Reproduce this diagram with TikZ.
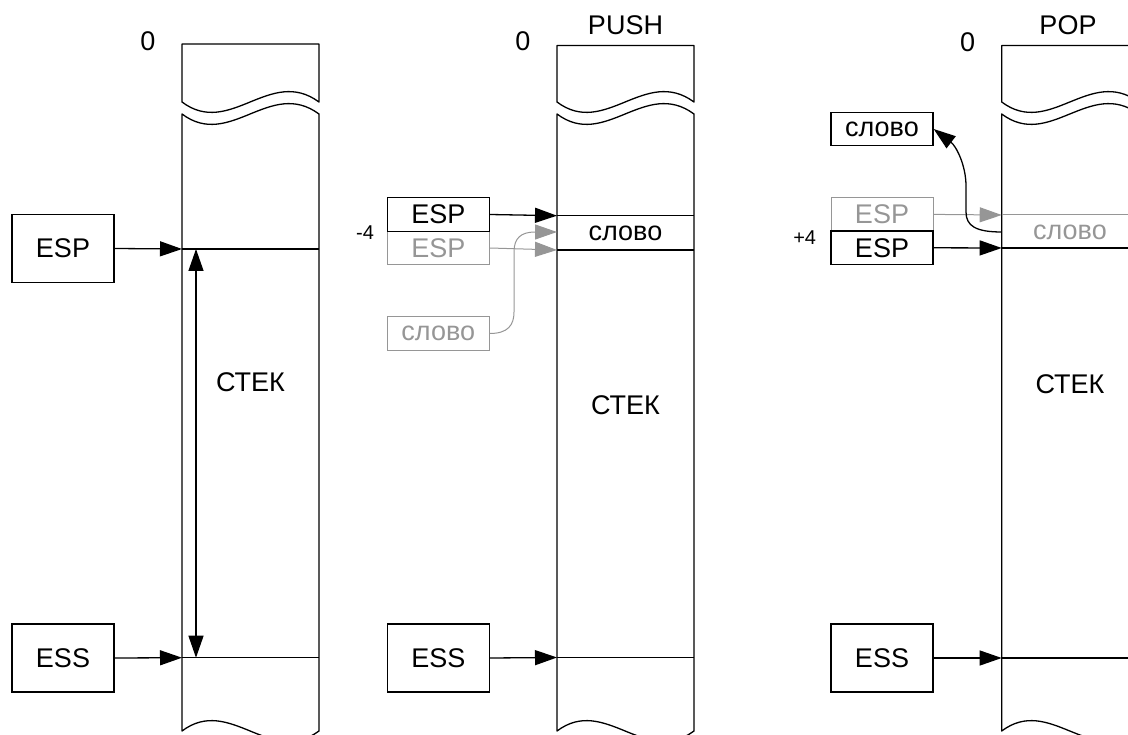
\documentclass[tikz,border=0pt]{standalone}
\usepackage{fontspec}
\setmainfont{Liberation Sans}
\usetikzlibrary{arrows.meta}
\definecolor{greyc}{RGB}{150,150,150}
\newcommand{\drawcol}[2]{%
  \draw[colline] (#1,102) -- (#1,#2) -- (#1+137,#2) -- (#1+137,102)
     .. controls (#1+88,66) and (#1+48,138) .. cycle;
  \draw[colline] (#1+137,731) -- (#1+137,114)
     .. controls (#1+88,78) and (#1+48,150) .. (#1,114) -- (#1,731)
     .. controls (#1+48,695) and (#1+88,767) .. cycle;
}
\begin{document}
\begin{tikzpicture}[x=1pt,y=-1pt,
  colline/.style={line width=1.3pt, line join=round},
  txt/.style={font=\fontsize{27}{30}\selectfont, inner sep=0pt},
  smalltxt/.style={font=\fontsize{20}{22}\selectfont, inner sep=0pt},
  bigbox/.style={txt, draw, line width=1.3pt, minimum width=102pt, minimum height=68pt},
  smallbox/.style={txt, draw, line width=1.3pt, minimum width=102pt, minimum height=33.5pt},
  greybox/.style={smallbox, draw=greyc, text=greyc, line width=1pt},
  ar/.style={line width=1.3pt, -{Triangle[length=22pt,width=15pt]}},
  gar/.style={line width=1pt, draw=greyc, -{Triangle[length=22pt,width=15pt]}, greyc},
  dar/.style={line width=1.3pt, {Triangle[length=22pt,width=15pt]}-{Triangle[length=22pt,width=15pt]}}
]
\useasboundingbox (0,0) rectangle (1128,735);
\clip (0,0) rectangle (1128,735);

% ---------------- column 1 ----------------
\drawcol{182}{44}
\coordinate (c1a) at (182,249);
\coordinate (c1b) at (182,657.7);
\draw[colline] (c1a) -- (319,249);
\draw[colline] (c1b) -- (319,657.7);
\node[txt] (z1) at (148,41) {0};
\node[txt] (st1) at (250.5,382) {СТЕК};
\node[bigbox] (esp1) at (63,248.5) {ESP};
\node[bigbox] (ess1) at (63,658) {ESS};
\draw[ar] (esp1.east) -- (c1a);
\draw[ar] (ess1.east) -- (c1b);
\coordinate (d1a) at (196,249);
\coordinate (d1b) at (196,657.7);
\draw[dar] (d1a) -- (d1b);

% ---------------- column 2 (PUSH) ----------------
\drawcol{557}{45.5}
\coordinate (c2a) at (557,215.7);
\coordinate (c2m) at (557,232);
\coordinate (c2b) at (557,250);
\coordinate (c2c) at (557,657.5);
\draw[colline] (c2a) -- (694,215.7);
\draw[colline] (c2b) -- (694,250);
\draw[colline] (c2c) -- (694,657.5);
\node[txt] (z2) at (523,41) {0};
\node[txt] (push) at (625.5,25) {PUSH};
\node[txt] (w2) at (625.5,233) {слово};
\node[txt] (st2) at (625.5,405) {СТЕК};
\node[greybox] (gesp2) at (438.3,248) {ESP};
\node[smallbox] (esp2) at (438.3,214.5) {ESP};
\node[smalltxt] (m4) at (365,233) {-4};
\node[greybox] (gw2) at (438.3,333.5) {слово};
\node[bigbox] (ess2) at (438.3,658) {ESS};
\draw[ar] (esp2.east) -- (c2a);
\draw[gar] (gesp2.east) -- (c2b);
\draw[gar] (gw2.east) .. controls (508,333.5) and (514,325) .. (514,312)
   -- (514,252) .. controls (514,238) and (521,232) .. (c2m);
\draw[ar] (ess2.east) -- (c2c);

% ---------------- column 3 (POP) ----------------
\drawcol{1001.7}{45.5}
\coordinate (c3a) at (1001.7,215);
\coordinate (c3m) at (1001.7,232);
\coordinate (c3b) at (1001.7,248);
\coordinate (c3c) at (1001.7,658);
\draw[line width=1pt, greyc] (c3a) -- (1140,215);
\draw[colline] (c3b) -- (1140,248);
\draw[colline] (c3c) -- (1140,658);
\draw[colline] (1001.7,114) -- (1001.7,731);
\node[txt] (z3) at (967.5,42) {0};
\node[txt] (pop) at (1068,25) {POP};
\node[txt, text=greyc] (w3) at (1070,232) {слово};
\node[txt] (st3) at (1070,384) {СТЕК};
\node[smallbox] (sl3) at (882,129) {слово};
\node[greybox] (gesp3) at (882,214.4) {ESP};
\node[smallbox] (esp3) at (882,247.8) {ESP};
\node[smalltxt] (p4) at (804.7,237.5) {+4};
\node[bigbox] (ess3) at (882,658) {ESS};
\draw[gar] (gesp3.east) -- (c3a);
\draw[ar] (esp3.east) -- (c3b);
\draw[ar] (c3m) .. controls (976,232) and (966,226) .. (966,212)
   -- (966,186) .. controls (966,165) and (956,146) .. (sl3.east);
\draw[ar] (ess3.east) -- (c3c);
\end{tikzpicture}
\end{document}
